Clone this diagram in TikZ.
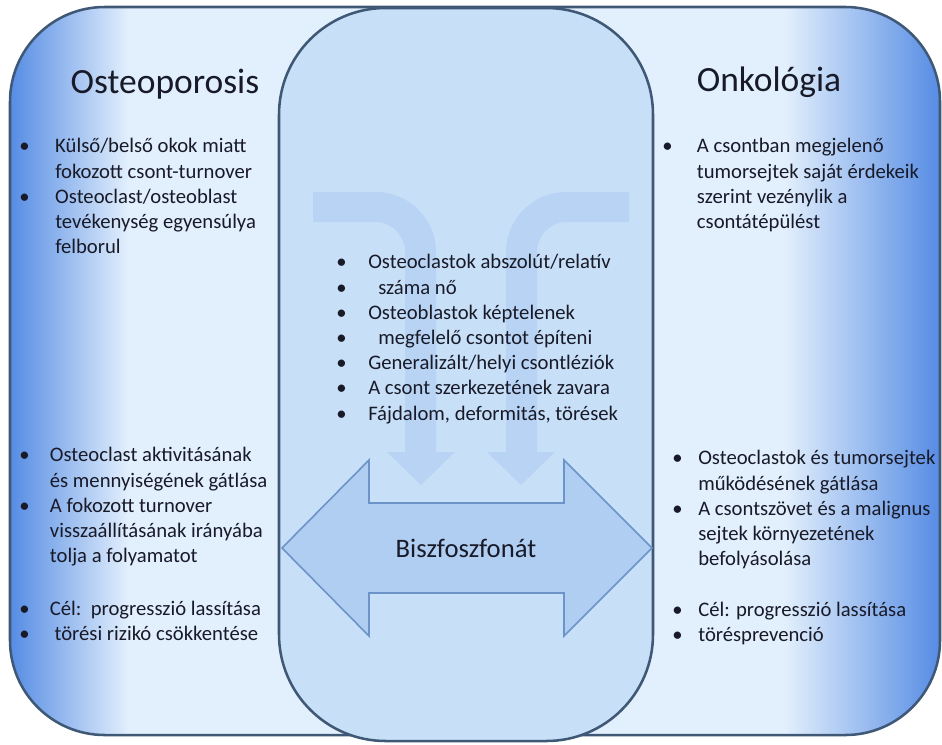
\documentclass[tikz,border=0pt]{standalone}
\usepackage{fontspec}
\setmainfont{Carlito}
\usepackage{tikz}
\usetikzlibrary{positioning}
\usepackage{xcolor}
\definecolor{frame}{RGB}{62,88,118}
\definecolor{sidedark}{RGB}{86,140,228}
\definecolor{sidelight}{RGB}{226,239,252}
\definecolor{midfill}{RGB}{200,223,248}
\definecolor{hookfill}{RGB}{184,211,243}
\definecolor{arrowfill}{RGB}{176,205,242}
\definecolor{arrowline}{RGB}{108,148,200}
\definecolor{ink}{RGB}{24,26,40}

\newcommand{\bul}[1]{\makebox[#1][l]{\textbullet}}

\begin{document}
\begin{tikzpicture}[x=0.75pt,y=-0.75pt,
  title/.style={font=\fontsize{26.6}{32}\selectfont,text=ink},
  points/.style={font=\fontsize{15.5}{18.9}\selectfont,text=ink,align=left,inner sep=0pt,anchor=north west}]
\useasboundingbox (0,0) rectangle (942,744);
\begin{scope}
\clip[rounded corners=71pt] (10,7) rectangle (940,735);
\fill[sidelight] (10,7) rectangle (940,735);
\shade[left color=sidedark,right color=sidelight] (10,7) rectangle (128,735);
\shade[left color=sidelight,right color=sidedark] (785,7) rectangle (940,735);
\end{scope}
\draw[frame,line width=1.9pt,rounded corners=71pt] (10,7) rectangle (940,735);
\filldraw[fill=midfill,draw=frame,line width=1.9pt,rounded corners=80pt] (279,8) rectangle (653,741);
\fill[hookfill] (313,192) -- (376,192) .. controls (409,192) and (436,219) .. (436,252) -- (436,452) -- (455,452) -- (421,485) -- (387,452) -- (405,452) -- (405,252) .. controls (405,236) and (392,222) .. (376,222) -- (313,222) -- cycle;
\fill[hookfill] (629,192) -- (566,192) .. controls (533,192) and (506,219) .. (506,252) -- (506,452) -- (487,452) -- (521,485) -- (555,452) -- (537,452) -- (537,252) .. controls (537,236) and (550,222) .. (566,222) -- (629,222) -- cycle;
\filldraw[fill=arrowfill,draw=arrowline,line width=1.2pt] (282,548) -- (369,460) -- (369,503) -- (564,503) -- (564,460) -- (652,548) -- (564,636) -- (564,593) -- (369,593) -- (369,636) -- cycle;
\node[title] (osteo) at (165,84) {Osteoporosis};
\node[title] (onko) at (769,82) {Onkológia};
\node[points] (causes) at (19,135) {\strut\bul{27pt}Külső/belső okok miatt\\
\hspace*{27pt}fokozott csont-turnover\\
\bul{27pt}Osteoclast/osteoblast\\
\hspace*{27pt}tevékenység egyensúlya\\
\hspace*{27pt}felborul};
\node[points] (tumor) at (662,135) {\strut\bul{26pt}A csontban megjelenő\\
\hspace*{26pt}tumorsejtek saját érdekeik\\
\hspace*{26pt}szerint vezénylik a\\
\hspace*{26pt}csontátépülést};
\node[points] (common) at (336,251) {\strut\bul{24pt}Osteoclastok abszolút/relatív\\
\bul{24pt}\hspace*{7.5pt}száma nő\\
\bul{24pt}Osteoblastok képtelenek\\
\bul{24pt}\hspace*{7.5pt}megfelelő csontot építeni\\
\bul{24pt}Generalizált/helyi csontléziók\\
\bul{24pt}A csont szerkezetének zavara\\
\bul{24pt}Fájdalom, deformitás, törések};
\node[points] (osteoeffect) at (19,444) {\strut\bul{23pt}Osteoclast aktivitásának\\
\hspace*{23pt}és mennyiségének gátlása\\
\bul{23pt}A fokozott turnover\\
\hspace*{23pt}visszaállításának irányába\\
\hspace*{23pt}tolja a folyamatot\\[20.5pt]
\bul{23pt}Cél:\ \ progresszió lassítása\\
\bul{23pt}\hspace*{3.5pt}törési rizikó csökkentése};
\node[points] (onkoeffect) at (672,447) {\strut\bul{19.5pt}Osteoclastok és tumorsejtek\\
\hspace*{19.5pt}működésének gátlása\\
\bul{19.5pt}A csontszövet és a malignus\\
\hspace*{19.5pt}sejtek környezetének\\
\hspace*{19.5pt}befolyásolása\\[19.4pt]
\bul{19.5pt}Cél: progresszió lassítása\\
\bul{19.5pt}törésprevenció};
\node[font=\fontsize{20}{24}\selectfont,text=ink] (bisz) at (466,548) {Biszfoszfonát};
\end{tikzpicture}
\end{document}
